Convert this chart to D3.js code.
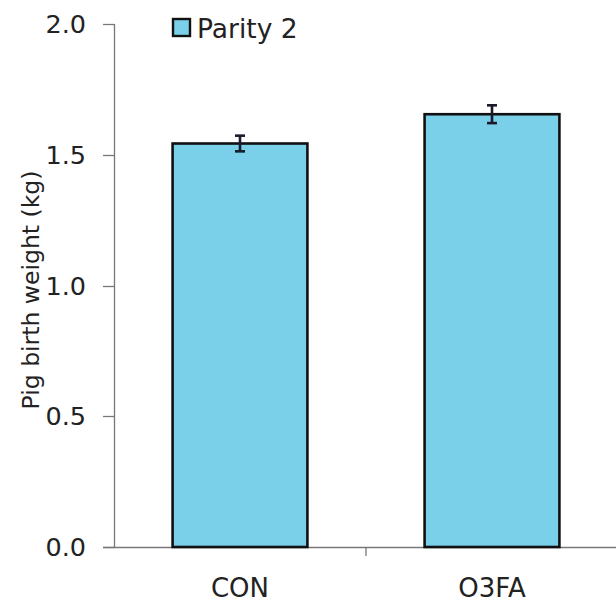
<!DOCTYPE html>
<html><head><meta charset="utf-8">
<script src="https://cdn.jsdelivr.net/npm/d3@7"></script>
<style>body{margin:0;background:#fff}svg{display:block}text{font-family:"DejaVu Sans",Verdana,sans-serif;fill:#222}</style>
</head><body>
<script>
const categories = ["CON", "O3FA"];
const values = [1.543, 1.655];
const errors = [0.03, 0.034];
const yTicks = [0, 0.5, 1.0, 1.5, 2.0];
const seriesName = "Parity 2";

const W = 616, H = 612;
const svg = d3.select("body").append("svg").attr("width", W).attr("height", H);
const x = d3.scaleBand().domain(categories).range([114, 618]).padding(0);
const y = d3.scaleLinear().domain([0, 2]).range([547, 24]);
const barFrac = 0.535;
const fill = "#7acfe9";

// y axis
svg.append("line").attr("x1", 114.5).attr("x2", 114.5).attr("y1", y(2)).attr("y2", y(0)).attr("stroke", "#777").attr("stroke-width", 1.3);
svg.selectAll(".yt").data(yTicks).enter().append("line")
  .attr("x1", 103).attr("x2", 114.5).attr("y1", d => Math.round(y(d)) + 0.5).attr("y2", d => Math.round(y(d)) + 0.5)
  .attr("stroke", "#777").attr("stroke-width", 1.3);
svg.selectAll(".yl").data(yTicks).enter().append("text")
  .attr("x", 86).attr("y", d => y(d)).attr("text-anchor", "end").attr("dominant-baseline", "central")
  .attr("font-size", 25.5).text(d => d3.format(".1f")(d));

// x axis
svg.append("line").attr("x1", 103).attr("x2", 618).attr("y1", y(0) + 0.5).attr("y2", y(0) + 0.5).attr("stroke", "#777").attr("stroke-width", 1.3);
const bounds = [x(categories[1])];
svg.selectAll(".xt").data(bounds).enter().append("line")
  .attr("x1", d => d).attr("x2", d => d).attr("y1", y(0)).attr("y2", y(0) + 9).attr("stroke", "#777").attr("stroke-width", 1.3);
svg.selectAll(".xl").data(categories).enter().append("text")
  .attr("x", d => x(d) + x.bandwidth() / 2).attr("y", 588).attr("text-anchor", "middle").attr("dominant-baseline", "central")
  .attr("font-size", 26).text(d => d);

// bars
const bw = x.bandwidth() * barFrac;
svg.selectAll(".bar").data(categories).enter().append("rect")
  .attr("x", d => x(d) + (x.bandwidth() - bw) / 2).attr("width", bw)
  .attr("y", (d, i) => y(values[i])).attr("height", (d, i) => y(0) - y(values[i]))
  .attr("fill", fill).attr("stroke", "#111").attr("stroke-width", 2.6);

// error bars
const eg = svg.selectAll(".err").data(categories).enter().append("g").attr("stroke", "#1a1a2a").attr("stroke-width", 2.6);
eg.append("line").attr("x1", d => x(d) + x.bandwidth() / 2).attr("x2", d => x(d) + x.bandwidth() / 2)
  .attr("y1", (d, i) => y(values[i] + errors[i])).attr("y2", (d, i) => y(values[i] - errors[i]));
eg.append("line").attr("x1", d => x(d) + x.bandwidth() / 2 - 5).attr("x2", d => x(d) + x.bandwidth() / 2 + 5)
  .attr("y1", (d, i) => y(values[i] + errors[i])).attr("y2", (d, i) => y(values[i] + errors[i]));
eg.append("line").attr("x1", d => x(d) + x.bandwidth() / 2 - 5).attr("x2", d => x(d) + x.bandwidth() / 2 + 5)
  .attr("y1", (d, i) => y(values[i] - errors[i])).attr("y2", (d, i) => y(values[i] - errors[i]));

// y label
svg.append("text").attr("transform", `translate(31,290) rotate(-90)`)
  .attr("text-anchor", "middle").attr("dominant-baseline", "central").attr("font-size", 23.5)
  .text("Pig birth weight (kg)");

// legend
svg.append("rect").attr("x", 173).attr("y", 19).attr("width", 17).attr("height", 17)
  .attr("fill", fill).attr("stroke", "#111").attr("stroke-width", 2.4);
svg.append("text").attr("x", 197).attr("y", 28).attr("dominant-baseline", "central").attr("font-size", 26.5).text(seriesName);
</script>
</body></html>
